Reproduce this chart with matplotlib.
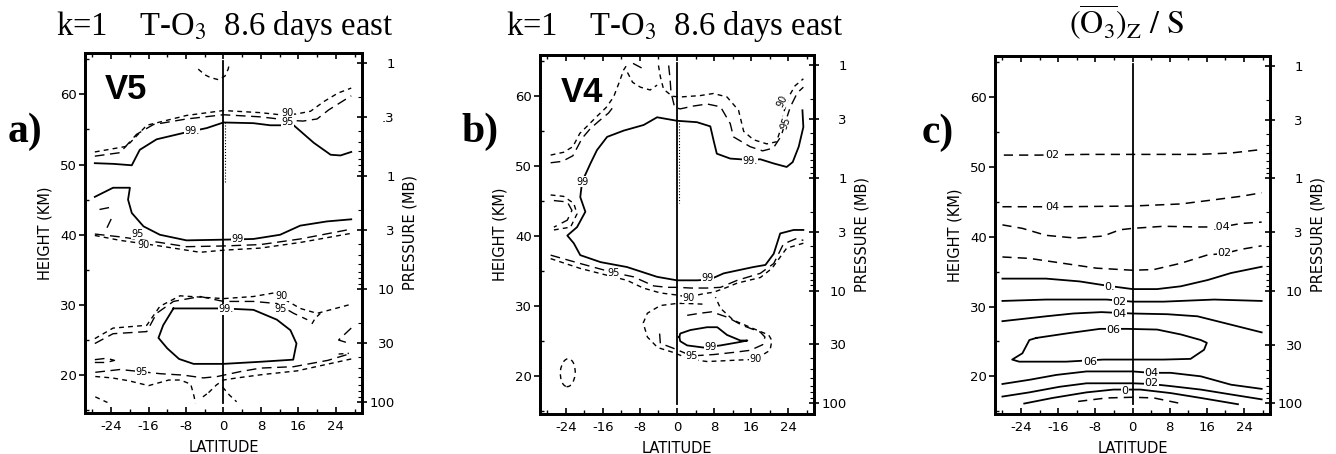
import matplotlib
matplotlib.use("Agg")
import numpy as np
import matplotlib.pyplot as plt
from matplotlib.patches import Ellipse

plt.rcParams['mathtext.fontset'] = 'stix'
plt.rcParams['font.family'] = ['DejaVu Sans']

# ---------------------------------------------------------------
# contour lines: (latitude, height km)
# ---------------------------------------------------------------

# panel a (V5)
a_99_top = [(-27.5, 50.2), (-23.5, 50.1), (-19.6, 49.9), (-17.9, 52.1), (-14.3, 53.6), (-8.6, 54.5),
            (-3.6, 55.2), (0.0, 56.0), (6.4, 55.9), (10.0, 55.6), (15.0, 55.6), (19.3, 53.1),
            (22.9, 51.4), (25.0, 51.3), (27.3, 51.8)]
a_95_top = [(-27.5, 51.2), (-22.1, 51.7), (-18.6, 54.3), (-15.0, 55.7), (-7.9, 56.5), (0.0, 57.1),
            (7.9, 56.8), (14.3, 56.3), (17.0, 56.2), (20.0, 56.5), (22.5, 57.8), (27.3, 59.8)]
a_90_top = [(-27.5, 51.8), (-20.7, 52.6), (-16.4, 55.6), (-7.9, 57.0), (0.0, 57.7), (7.9, 57.4),
            (12.1, 57.1), (15.5, 57.2), (18.6, 57.6), (21.5, 59.0), (24.5, 60.2), (27.3, 60.9)]
a_top_arc = [(-5.4, 63.6), (-4.0, 62.8), (-2.8, 62.4), (-1.1, 62.1), (0.3, 62.6), (1.0, 63.6), (1.3, 64.5)]
a_99_mid = [(-27.5, 45.4), (-23.6, 46.7), (-20.0, 46.7), (-20.4, 45.0), (-19.6, 43.1), (-17.1, 41.2),
            (-13.6, 40.0), (-7.9, 39.2), (0.0, 39.3), (6.4, 39.4), (12.1, 40.0), (16.4, 41.3),
            (22.1, 41.9), (27.3, 42.2)]
a_95_mid = [(-27.5, 40.1), (-22.1, 39.7), (-13.6, 38.9), (-7.9, 38.3), (0.0, 38.4), (7.9, 38.6),
            (16.4, 39.4), (27.3, 40.8)]
a_90_mid = [(-27.5, 39.9), (-22.1, 39.2), (-13.6, 38.4), (-5.0, 37.5), (0.0, 37.8), (7.9, 38.1),
            (16.4, 38.9), (27.3, 40.2)]
a_piece_l1 = [(-26.5, 43.6), (-23.5, 44.0)]
a_piece_l2 = [(-24.9, 41.0), (-23.6, 42.8)]
a_99_low = [(-10.7, 29.5), (0.0, 29.5), (6.4, 29.3), (11.4, 27.9), (14.3, 26.4), (15.6, 24.5),
            (14.9, 22.2), (7.9, 21.9), (0.0, 21.6), (-6.4, 21.6), (-9.5, 22.3), (-12.0, 23.8),
            (-13.9, 25.3), (-12.9, 27.1), (-10.7, 29.5)]
a_95_low_up = [(-27.5, 24.5), (-23.6, 25.9), (-16.4, 26.2), (-14.3, 28.8), (-10.7, 30.5), (-5.0, 31.2),
               (0.0, 30.5), (6.4, 30.5), (11.4, 30.2), (15.0, 28.8), (17.9, 27.9)]
a_90_low_up = [(-27.5, 25.2), (-23.6, 26.7), (-16.4, 27.1), (-13.6, 29.8), (-9.3, 31.3), (0.0, 30.9),
               (6.4, 31.2), (10.7, 31.7), (16.4, 29.5), (20.0, 28.8), (27.3, 30.1)]
a_piece_r1 = [(18.9, 27.3), (19.6, 28.1), (20.7, 28.8)]
a_hook = [(27.3, 26.7), (24.6, 25.0), (27.0, 24.5)]
a_dash_r = [(24.6, 23.0), (26.8, 23.1)]
a_loop_l = [(-27.5, 22.2), (-25.0, 22.4), (-23.3, 22.1), (-25.0, 21.8), (-27.5, 21.8)]
a_95_low_dn = [(-27.4, 20.4), (-22.1, 20.8), (-13.5, 20.2), (-8.6, 20.0), (-4.3, 19.6), (-1.3, 19.8),
               (3.6, 20.5), (7.9, 21.0), (15.0, 21.2), (22.3, 22.1), (27.3, 23.1)]
a_90_low_dn = [(-27.4, 19.8), (-23.8, 19.6), (-20.3, 19.2), (-16.0, 18.5), (-11.7, 19.3), (-9.2, 19.3),
               (-7.0, 18.7), (-6.3, 17.0), (-6.0, 16.0)]
a_90_low_dn2 = [(-3.2, 17.5), (-1.5, 18.6), (0.0, 19.3), (2.9, 19.6), (8.6, 20.1), (15.7, 20.6), (27.3, 22.3)]
a_bot1 = [(-4.4, 16.9), (-3.0, 17.6)]
a_bot2 = [(-0.2, 18.3), (1.2, 17.2), (2.8, 16.2)]
a_bot3 = [(-27.4, 16.9), (-24.8, 16.1)]
a_dotted = [(0.4, 56.0), (0.4, 47.5)]

# panel b (V4)
b_99 = [(27.1, 58.0), (27.3, 55.6), (26.3, 52.8), (25.0, 50.6), (23.7, 49.9), (20.9, 50.4), (18.0, 51.0),
        (15.8, 50.9), (11.5, 51.1), (8.6, 51.8), (7.9, 53.7), (7.2, 55.7), (4.3, 56.3), (0.0, 56.5),
        (-4.3, 57.0), (-7.2, 55.9), (-11.5, 55.1), (-15.1, 54.2), (-17.3, 52.3), (-18.7, 50.4),
        (-20.5, 47.8), (-20.9, 45.6), (-19.8, 43.5), (-21.6, 41.3), (-23.7, 40.1), (-22.3, 39.0),
        (-20.9, 37.3), (-16.5, 36.3), (-10.8, 35.6), (-4.3, 34.2), (0.0, 33.7), (4.3, 33.7),
        (7.0, 33.8), (10.1, 34.7), (16.5, 35.6), (19.1, 35.9), (20.9, 37.5), (22.3, 40.4),
        (25.2, 40.9), (27.3, 40.9)]
b_95_up_l = [(-27.3, 50.5), (-24.8, 50.7), (-22.5, 51.5), (-20.5, 54.0), (-18.7, 55.4), (-16.8, 56.5),
             (-14.8, 57.6), (-13.4, 58.8)]
b_90_up_l = [(-27.3, 51.6), (-24.5, 52.0), (-22.5, 52.8), (-21.0, 54.7), (-19.0, 56.0), (-17.2, 57.2),
             (-15.3, 58.4), (-13.7, 59.9), (-12.6, 61.8), (-11.5, 63.8), (-10.5, 64.8)]
b_top_a = [(-10.7, 63.4), (-9.6, 62.0), (-7.9, 61.3), (-5.8, 60.9), (-4.3, 61.6)]
b_top_b = [(-9.5, 64.7), (-7.5, 64.0)]
b_90_up_r = [(-4.0, 64.4), (-3.6, 62.8), (-2.9, 61.0), (-1.0, 60.0), (0.7, 59.9), (5.0, 60.1),
             (7.9, 60.4), (10.8, 59.9), (13.3, 58.0), (14.4, 55.0), (16.5, 53.8), (19.4, 53.2),
             (21.5, 53.5), (22.5, 55.5), (23.2, 58.0), (24.2, 60.0), (25.5, 61.5), (27.3, 62.5)]
b_95_up_r = [(-1.8, 64.4), (-1.5, 62.5), (-1.3, 60.6), (-0.5, 58.4), (0.7, 58.2), (3.5, 58.6),
             (6.5, 58.9), (9.4, 58.5), (11.5, 56.1), (12.2, 54.2), (15.8, 52.8), (18.5, 52.2),
             (20.8, 52.6), (22.5, 54.3), (23.4, 56.3), (24.5, 58.5), (26.0, 60.5), (27.3, 61.3)]
b_loop_out = [(-27.3, 45.9), (-24.5, 45.7), (-22.3, 44.7), (-21.6, 43.2), (-23.0, 41.3), (-26.6, 40.9)]
b_loop_in = [(-26.6, 45.1), (-23.7, 44.9), (-22.7, 43.7), (-23.7, 42.3), (-26.6, 41.3)]
b_95_dn = [(-27.3, 37.3), (-20.9, 36.1), (-13.7, 34.8), (-9.4, 34.2), (-5.0, 32.9), (-2.1, 32.7),
           (0.0, 32.7), (3.0, 32.6), (6.5, 32.6), (9.4, 32.7), (13.0, 33.7), (18.0, 34.7),
           (20.9, 36.1), (23.0, 38.9), (25.9, 39.7), (27.3, 39.4)]
b_90_dn = [(-27.3, 36.8), (-20.9, 35.4), (-10.8, 33.7), (-7.3, 32.6), (-3.6, 31.9), (0.0, 31.6),
           (2.4, 31.3), (5.8, 31.8), (7.9, 32.0), (10.8, 32.7), (13.0, 33.3), (18.0, 34.1),
           (20.5, 35.4), (23.7, 38.3), (27.3, 39.0)]
b_90_loop = [(5.5, 30.3), (2.0, 30.4), (0.0, 30.4), (-3.6, 30.1), (-6.4, 29.0), (-7.3, 27.6),
             (-6.4, 25.6), (-4.2, 24.1), (-0.8, 23.4), (2.9, 22.4), (6.5, 22.1), (10.0, 22.2),
             (13.0, 22.3), (16.9, 22.4), (20.1, 23.7), (20.5, 25.1), (19.8, 25.9), (16.5, 26.8),
             (12.2, 28.0), (9.4, 29.7), (8.3, 31.3)]
b_95_loop = [(2.2, 28.7), (5.0, 29.0), (7.5, 29.2), (11.0, 28.4), (14.0, 27.3), (18.0, 26.3),
             (19.0, 25.6), (18.5, 24.5), (15.8, 23.7), (12.2, 23.4), (8.0, 23.1), (3.2, 22.9),
             (-0.8, 24.0), (-3.6, 24.7), (-3.8, 26.5)]
b_99_low = [(0.5, 25.6), (0.7, 26.1), (2.9, 26.6), (6.5, 27.0), (8.7, 27.0), (10.8, 25.9), (13.7, 25.1),
            (15.2, 25.1), (13.7, 24.9), (9.4, 24.4), (5.7, 24.1), (2.2, 24.4), (0.7, 25.0), (0.5, 25.6)]
b_ell_center = (-23.6, 20.5)
b_ell_size = (3.2, 4.0)
b_dotted = [(0.4, 56.6), (0.4, 44.7)]

# panel c (O3 gradient / S)
c_d02_top = [(-27.7, 51.7), (-20.0, 51.7), (-10.0, 51.8), (0.0, 51.8), (14.0, 51.8), (21.2, 52.0), (27.8, 52.5)]
c_d04_a = [(-28.0, 44.3), (-15.0, 44.3), (0.0, 44.4), (10.4, 44.7), (17.6, 45.3), (23.4, 45.8), (27.8, 46.3)]
c_d04_b = [(-28.0, 41.7), (-23.7, 41.2), (-18.6, 40.2), (-12.1, 39.8), (-6.3, 40.1), (-2.7, 41.0),
           (0.0, 41.2), (6.7, 41.5), (14.0, 41.4), (19.1, 41.4), (23.4, 41.9), (27.8, 42.1)]
c_d02_b = [(-28.0, 37.1), (-22.2, 36.9), (-15.0, 36.2), (-7.8, 35.5), (0.0, 35.2), (4.6, 35.3),
           (10.4, 36.2), (16.2, 37.4), (19.8, 37.6), (23.4, 38.2), (27.8, 38.7)]
c_s0 = [(-28.0, 34.0), (-18.6, 34.0), (-11.4, 33.6), (-5.6, 33.0), (0.0, 32.5), (5.3, 32.5),
        (10.4, 32.9), (16.2, 33.8), (21.2, 34.8), (27.8, 35.7)]
c_s02 = [(-28.0, 30.8), (-18.6, 31.0), (-5.6, 31.0), (0.0, 30.7), (6.7, 30.7), (17.6, 31.0), (27.8, 30.8)]
c_s04 = [(-28.0, 27.9), (-18.6, 28.6), (-12.8, 29.0), (-6.7, 29.2), (0.0, 29.0), (7.5, 28.9),
         (14.0, 28.6), (21.2, 27.4), (27.8, 26.3)]
c_s06 = [(-20.7, 25.5), (-13.6, 26.2), (-7.0, 26.8), (-1.2, 26.8), (5.3, 26.7), (10.4, 26.0),
         (14.7, 25.2), (16.0, 24.8), (15.4, 23.8), (12.5, 22.5), (6.7, 22.4), (0.0, 22.4),
         (-6.3, 22.4), (-14.3, 22.1), (-24.4, 22.1), (-25.9, 22.4), (-23.7, 23.3), (-22.2, 25.2),
         (-20.7, 25.5)]
c_s04_low = [(-28.0, 18.9), (-22.2, 19.5), (-16.4, 20.2), (-9.9, 20.7), (0.0, 20.7), (4.0, 20.5),
             (8.2, 20.5), (14.7, 20.0), (21.2, 18.8), (27.8, 18.2)]
c_s02_low = [(-28.0, 17.1), (-22.2, 17.7), (-15.7, 18.5), (-9.9, 19.0), (0.0, 19.0), (4.0, 18.9),
             (8.2, 18.6), (14.7, 18.1), (21.2, 17.4), (27.8, 16.7)]
c_s0_low = [(-23.3, 16.1), (-17.2, 16.9), (-9.9, 17.7), (-4.1, 18.1), (1.7, 18.1), (8.2, 17.6),
            (14.7, 16.9), (22.7, 16.0)]
c_d_low = [(-11.7, 16.4), (-5.6, 16.9), (0.0, 17.0), (4.6, 16.9), (10.4, 16.1)]

# contour labels: (text, lat, height, rotation)
a_labels = [("99.", -6.8, 54.8, 0), ("90", 13.7, 57.4, 0), ("95", 13.7, 56.1, 0),
            ("95", -18.4, 40.1, 0), ("90", -17.2, 38.5, 0), ("99", 2.9, 39.4, 0),
            ("90", 12.5, 31.3, 0), ("95", 12.1, 29.4, 0), ("99.", 0.6, 29.4, 0),
            ("95", -17.5, 20.5, 0)]
b_labels = [("99", -20.5, 47.8, 0), ("99.", 15.8, 50.7, 0), ("90", 22.8, 59.3, 65),
            ("95", 23.5, 56.2, 70), ("95", -13.7, 34.8, 0), ("99", 6.5, 34.0, 0),
            ("90", 2.5, 31.2, 0), ("99", 7.2, 24.2, 0), ("95", 3.2, 22.9, 0), ("90", 16.9, 22.4, 0)]
c_labels = [("02", -17.2, 51.7, 0), ("04", -17.2, 44.3, 0), (".04", 19.1, 41.4, 0),
            ("02", 19.8, 37.6, 0), ("0.", -4.9, 32.8, 0), ("02", -2.8, 30.7, 0),
            ("04", -2.8, 29.0, 0), ("06", -4.1, 26.7, 0), ("06", -9.2, 22.1, 0),
            ("04", 4.0, 20.5, 0), ("02", 4.0, 19.0, 0), ("0", -1.7, 17.9, 0)]

# axis ticks
lat_major = [-24, -16, -8, 0, 8, 16, 24]
lat_minor = [-28, -20, -12, -4, 4, 12, 20, 28]
z_major = [20, 30, 40, 50, 60]
z_minor = [15, 25, 35, 45, 55, 65]
p_levels = [0.1, 0.3, 1, 3, 10, 30, 100]
p_labels_a = ["1", ".3", "1", "3", "10", "30", "100"]
p_labels_bc = ["1", "3", "1", "3", "10", "30", "100"]
p_minor = [0.2, 0.4, 0.5, 0.6, 0.7, 0.8, 0.9, 2, 4, 5, 6, 7, 8, 9, 20, 40, 50, 60, 70, 80, 90]
scale_h = 7.0  # km, log-pressure scale height

zero_line = [(0.0, 16.0), (0.0, 64.7)]

STY = {
    "s": dict(color="k", lw=1.3, ls="-"),
    "95": dict(color="k", lw=1.0, ls=(0, (7, 4))),
    "90": dict(color="k", lw=1.0, ls=(0, (3.5, 3))),
    "c": dict(color="k", lw=1.1, ls=(0, (6, 4))),
    "dot": dict(color="k", lw=0.8, ls=":"),
}


def draw(ax, pts, sty):
    x = [p[0] for p in pts]
    y = [p[1] for p in pts]
    ax.plot(x, y, **STY[sty])


def setup(ax, plabels):
    ax.set_xlim(-29.6, 29.6)
    ax.set_ylim(14.6, 65.9)
    for s in ax.spines.values():
        s.set_linewidth(2.0)
    ax.set_xticks(lat_major)
    ax.set_xticklabels([str(v) for v in lat_major])
    ax.set_xticks(lat_minor, minor=True)
    ax.set_yticks(z_major)
    ax.set_yticks(z_minor, minor=True)
    ax.tick_params(axis="x", which="both", direction="in", top=True, labelsize=9.5, pad=5)
    ax.tick_params(axis="x", which="major", length=4, width=1.2)
    ax.tick_params(axis="x", which="minor", length=3, width=1.0)
    ax.tick_params(axis="y", which="major", direction="out", length=4, width=1.2, labelsize=9.5, pad=2)
    ax.tick_params(axis="y", which="minor", direction="in", length=3, width=1.0)
    ax.set_xlabel("LATITUDE", fontsize=10.5, labelpad=5)
    ax.set_ylabel("HEIGHT (KM)", fontsize=10.5, labelpad=5)

    ax2 = ax.twinx()
    ax2.set_ylim(ax.get_ylim())
    zp = [scale_h * np.log(1000.0 / p) for p in p_levels]
    zm = [scale_h * np.log(1000.0 / p) for p in p_minor]
    ax2.set_yticks(zp)
    ax2.set_yticklabels(plabels)
    ax2.set_yticks(zm, minor=True)
    ax2.tick_params(axis="y", which="major", direction="inout", length=7, width=1.2, labelsize=9.5, pad=20)
    ax2.tick_params(axis="y", which="minor", direction="in", length=3, width=0.8)
    for t in ax2.get_yticklabels():
        t.set_horizontalalignment("right")
    ax2.set_ylabel("PRESSURE (MB)", fontsize=10.5, labelpad=6)
    for s in ax2.spines.values():
        s.set_linewidth(2.0)
    draw(ax, zero_line, "s")


def put_labels(ax, labels, size=7):
    for txt, x, y, rot in labels:
        ax.text(x, y, txt, fontsize=size, ha="center", va="center", rotation=rot, zorder=5,
                bbox=dict(fc="white", ec="none", pad=0.3))


fig = plt.figure(figsize=(13.36, 4.54), dpi=100)
W, H = 1336.0, 454.0
ax_a = fig.add_axes([85 / W, 1 - 413 / H, 277 / W, 360 / H])
ax_b = fig.add_axes([540 / W, 1 - 414 / H, 274 / W, 359 / H])
ax_c = fig.add_axes([995 / W, 1 - 414 / H, 275 / W, 358 / H])

setup(ax_a, p_labels_a)
setup(ax_b, p_labels_bc)
setup(ax_c, p_labels_bc)

# panel a
for pts in [a_99_top, a_99_mid, a_99_low]:
    draw(ax_a, pts, "s")
for pts in [a_95_top, a_95_mid, a_95_low_up, a_95_low_dn, a_loop_l, a_hook, a_piece_l1, a_piece_l2]:
    draw(ax_a, pts, "95")
for pts in [a_90_top, a_90_mid, a_90_low_up, a_90_low_dn, a_90_low_dn2, a_top_arc, a_piece_r1,
            a_dash_r, a_bot1, a_bot2, a_bot3]:
    draw(ax_a, pts, "90")
draw(ax_a, a_dotted, "dot")
put_labels(ax_a, a_labels)

# panel b
for pts in [b_99, b_99_low]:
    draw(ax_b, pts, "s")
for pts in [b_95_up_l, b_95_up_r, b_95_dn, b_95_loop, b_loop_in, b_top_b]:
    draw(ax_b, pts, "95")
for pts in [b_90_up_l, b_90_up_r, b_90_dn, b_90_loop, b_loop_out, b_top_a]:
    draw(ax_b, pts, "90")
ax_b.add_patch(Ellipse(b_ell_center, b_ell_size[0], b_ell_size[1], angle=-8, fill=False,
                       ec="k", lw=1.0, ls=(0, (3.5, 3))))
draw(ax_b, b_dotted, "dot")
put_labels(ax_b, b_labels)

# panel c
for pts in [c_s0, c_s02, c_s04, c_s06, c_s04_low, c_s02_low, c_s0_low]:
    draw(ax_c, pts, "s")
for pts in [c_d02_top, c_d04_a, c_d04_b, c_d02_b, c_d_low]:
    draw(ax_c, pts, "c")
put_labels(ax_c, c_labels, size=8)

# panel ids and names
ax_a.text(-25.3, 59.3, "V5", fontsize=25, fontweight="bold", family="Liberation Sans", va="baseline")
ax_b.text(-25.2, 59.2, "V4", fontsize=25, fontweight="bold", family="Liberation Sans", va="baseline")

serif = dict(family="Liberation Serif", va="baseline", ha="center")
fig.text(25 / W, 1 - 142 / H, "a)", fontsize=30, fontweight="bold", **serif)
fig.text(480 / W, 1 - 142 / H, "b)", fontsize=30, fontweight="bold", **serif)
fig.text(938 / W, 1 - 143 / H, "c)", fontsize=30, fontweight="bold", **serif)

fig.text(225 / W, 1 - 35 / H, r"k=1    T-O$_3$  8.6 days east", fontsize=23.5, **serif)
fig.text(675 / W, 1 - 35 / H, r"k=1    T-O$_3$  8.6 days east", fontsize=23.5, **serif)
fig.text(1127 / W, 1 - 34 / H, r"$(\overline{\mathrm{O}_3})_\mathrm{Z}\ /\ \mathrm{S}$", fontsize=23, **serif)

fig.savefig("out.png", dpi=100)
